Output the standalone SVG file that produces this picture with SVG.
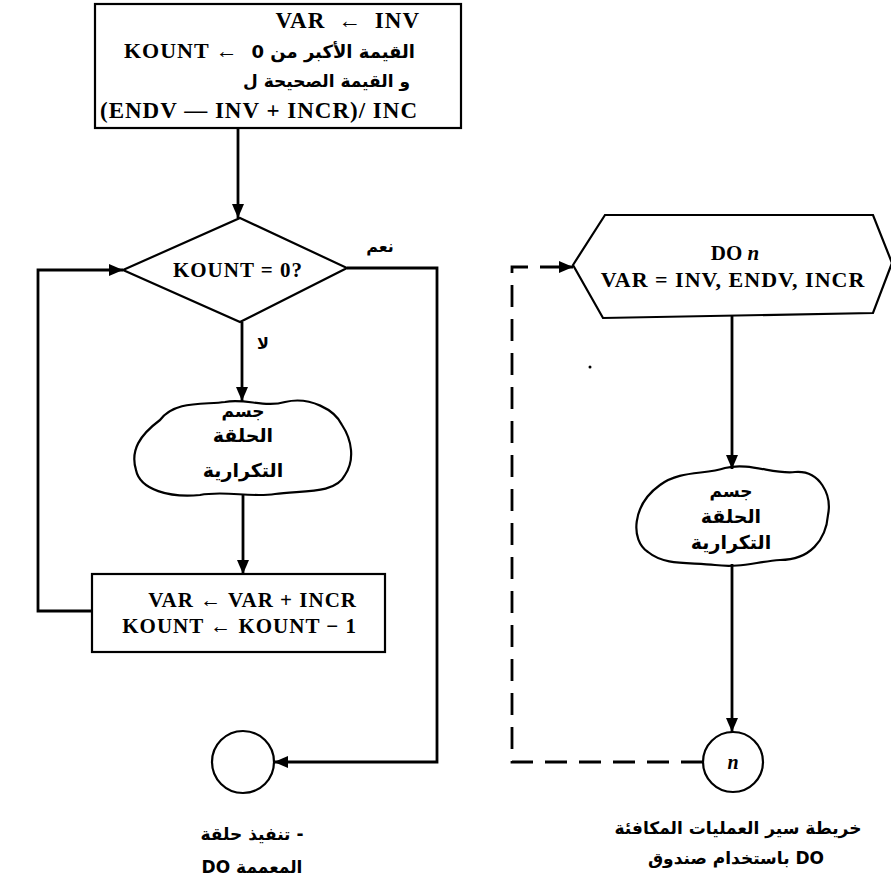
<svg xmlns="http://www.w3.org/2000/svg" width="891" height="892" viewBox="0 0 891 892">
<style>
.shape{fill:#fff;stroke:#000;stroke-width:2.2}
.line{fill:none;stroke:#000;stroke-width:2.8}
.dash{fill:none;stroke:#000;stroke-width:2.8;stroke-dasharray:22 12}
.lat{font-family:"Liberation Serif","DejaVu Serif",serif;font-weight:bold;fill:#000}
.ar{font-family:"DejaVu Sans","Noto Sans",sans-serif;font-weight:bold;fill:#000}
</style>
<defs>
<marker id="arr" markerUnits="userSpaceOnUse" markerWidth="14" markerHeight="12" refX="14" refY="6" orient="auto">
<path d="M0,0 L14,6 L0,12 z" fill="#000"/>
</marker>
</defs>
<rect width="891" height="892" fill="#fff"/>

<g id="init">
<rect class="shape" x="95" y="4" width="366" height="124"/>
<text class="lat" x="420" y="28" font-size="23" text-anchor="end" letter-spacing="1" word-spacing="6">VAR ← INV</text>
<text class="lat" x="124" y="58" font-size="22" letter-spacing="1">KOUNT ←</text>
<text class="ar" x="415" y="58" font-size="18" text-anchor="end">القيمة الأكبر من 0</text>
<text class="ar" x="410" y="87" font-size="17" text-anchor="end">و القيمة الصحيحة ل</text>
<text class="lat" x="100" y="118" font-size="23" letter-spacing="1">(ENDV — INV + INCR)/ INC</text>
</g>

<g id="decision">
<polygon class="shape" points="240,218 347,268 240,322 123,270"/>
<text class="lat" x="238" y="277" font-size="21" text-anchor="middle" letter-spacing="1">KOUNT = 0?</text>
</g>

<g id="body1">
<path class="shape" d="M160,420 C175,400 205,405 225,402 C245,398 265,408 285,402 C310,396 335,410 342,425 C352,440 355,460 345,475 C335,495 300,490 275,494 C250,498 225,490 200,495 C170,498 140,490 136,470 C130,450 140,435 160,420 Z"/>
<text class="ar" x="243" y="417" font-size="17" text-anchor="middle">جسم</text>
<text class="ar" x="243" y="442" font-size="19" text-anchor="middle">الحلقة</text>
<text class="ar" x="243" y="477" font-size="19" text-anchor="middle">التكرارية</text>
</g>

<g id="update">
<rect class="shape" x="92" y="574" width="293" height="78"/>
<text class="lat" x="357" y="607" font-size="21" text-anchor="end" letter-spacing="1">VAR ← VAR + INCR</text>
<text class="lat" x="357" y="633" font-size="21" text-anchor="end" letter-spacing="1">KOUNT ← KOUNT − 1</text>
</g>

<g id="end1">
<circle class="shape" cx="243" cy="762" r="31"/>
</g>

<g id="doBox">
<polygon class="shape" points="573,265 605,215 873,215 892,263 873,313 603,318"/>
<text class="lat" x="735" y="260" font-size="21" text-anchor="middle">DO <tspan font-style="italic">n</tspan></text>
<text class="lat" x="733" y="287" font-size="22" text-anchor="middle" letter-spacing="1">VAR = INV, ENDV, INCR</text>
</g>

<g id="body2">
<path class="shape" d="M660,485 C680,470 705,475 725,468 C750,462 775,475 795,472 C820,470 832,495 828,515 C826,540 810,560 780,560 C755,562 740,568 715,565 C690,562 665,566 648,552 C630,540 632,505 660,485 Z"/>
<text class="ar" x="731" y="497" font-size="17" text-anchor="middle">جسم</text>
<text class="ar" x="731" y="523" font-size="19" text-anchor="middle">الحلقة</text>
<text class="ar" x="731" y="549" font-size="19" text-anchor="middle">التكرارية</text>
</g>

<g id="endN">
<circle class="shape" cx="733" cy="762" r="30"/>
<text class="lat" x="733" y="769" font-size="20" font-style="italic" text-anchor="middle">n</text>
</g>

<g id="connectors">
<path class="line" d="M238,128 V218" marker-end="url(#arr)"/>
<path class="line" d="M242,322 V401" marker-end="url(#arr)"/>
<path class="line" d="M243,495 V574" marker-end="url(#arr)"/>
<path class="line" d="M92,611 H38 V270 H123" marker-end="url(#arr)"/>
<path class="line" d="M347,268 H437 V762 H274" marker-end="url(#arr)"/>
<path class="line" d="M732,316 V469" marker-end="url(#arr)"/>
<path class="line" d="M732,564 V732" marker-end="url(#arr)"/>
<path class="dash" d="M703,762 H512 V267 H540"/>
<path class="line" d="M540,267 H573" marker-end="url(#arr)"/>
<text class="ar" x="380" y="252" font-size="16" text-anchor="middle">نعم</text>
<text class="ar" x="263" y="349" font-size="16" text-anchor="middle">لا</text>
</g>

<circle cx="590" cy="367" r="1.5" fill="#000"/>

<g id="captions">
<text class="ar" x="252" y="840" font-size="17" text-anchor="middle">تنفيذ حلقة -</text>
<text class="ar" x="252" y="873" font-size="17" text-anchor="middle">DO المعممة</text>
<text class="ar" x="738" y="834" font-size="17" text-anchor="middle">خريطة سير العمليات المكافئة</text>
<text class="ar" x="736" y="864" font-size="17" text-anchor="middle">باستخدام صندوق DO</text>
</g>
</svg>
